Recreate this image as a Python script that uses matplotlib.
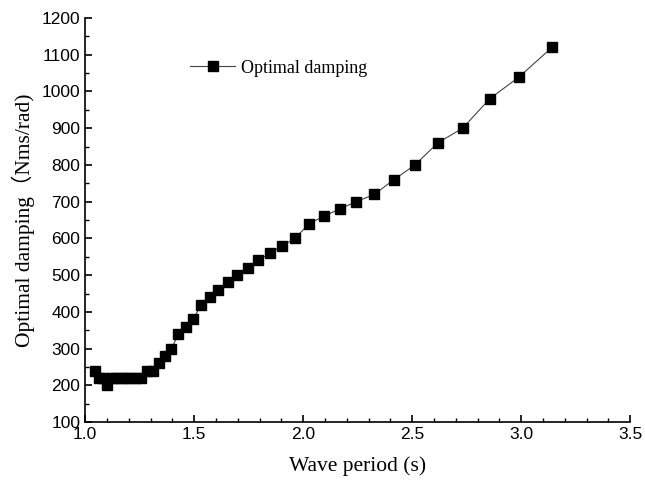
import numpy as np
import matplotlib.pyplot as plt
from matplotlib.ticker import MultipleLocator

# wave period (s)
period = [1.047, 1.065, 1.083, 1.102, 1.122, 1.142, 1.164, 1.186, 1.208, 1.232,
          1.257, 1.282, 1.309, 1.337, 1.366, 1.396, 1.428, 1.461, 1.496, 1.532,
          1.571, 1.611, 1.653, 1.698, 1.745, 1.795, 1.848, 1.904, 1.963, 2.027,
          2.094, 2.167, 2.244, 2.327, 2.417, 2.513, 2.618, 2.732, 2.856, 2.992,
          3.142]
# optimal damping (Nms/rad)
damping = [240, 220, 220, 200, 220, 220, 220, 220, 220, 220,
           220, 240, 240, 260, 280, 300, 340, 360, 380, 420,
           440, 460, 480, 500, 520, 540, 560, 580, 600, 640,
           660, 680, 700, 720, 760, 800, 860, 900, 980, 1040,
           1120]

serif = ['Liberation Serif', 'Noto Sans CJK SC']
plt.rcParams['font.family'] = ['Liberation Sans', 'DejaVu Sans']

fig = plt.figure(figsize=(6.45, 4.83), dpi=100)
ax = fig.add_axes([0.132, 0.126, 0.845, 0.837])

ax.plot(period, damping, color='#444444', lw=0.8, marker='s', markersize=7,
        markerfacecolor='black', markeredgecolor='black', label='Optimal damping')

ax.set_xlim(1.0, 3.5)
ax.set_ylim(100, 1200)
ax.xaxis.set_major_locator(MultipleLocator(0.5))
ax.xaxis.set_minor_locator(MultipleLocator(0.1))
ax.yaxis.set_major_locator(MultipleLocator(100))
ax.yaxis.set_minor_locator(MultipleLocator(50))
ax.xaxis.set_major_formatter(plt.FormatStrFormatter('%.1f'))

for s in ['top', 'right']:
    ax.spines[s].set_visible(False)
for s in ['left', 'bottom']:
    ax.spines[s].set_linewidth(1.2)

ax.tick_params(which='major', direction='in', length=5, width=1.2, labelsize=12.5)
ax.tick_params(which='minor', direction='in', length=3, width=1.0)

ax.set_xlabel('Wave period (s)', family=serif, fontsize=15.5, labelpad=10)
ax.set_ylabel('Optimal damping（Nms/rad)', family=serif, fontsize=15.5, labelpad=5)

ax.legend(loc='center left', bbox_to_anchor=(0.193, 0.876), frameon=False,
          prop={'family': serif, 'size': 13}, handlelength=2.5,
          borderpad=0, borderaxespad=0, handletextpad=0.3)

fig.savefig('out.png', dpi=100)
